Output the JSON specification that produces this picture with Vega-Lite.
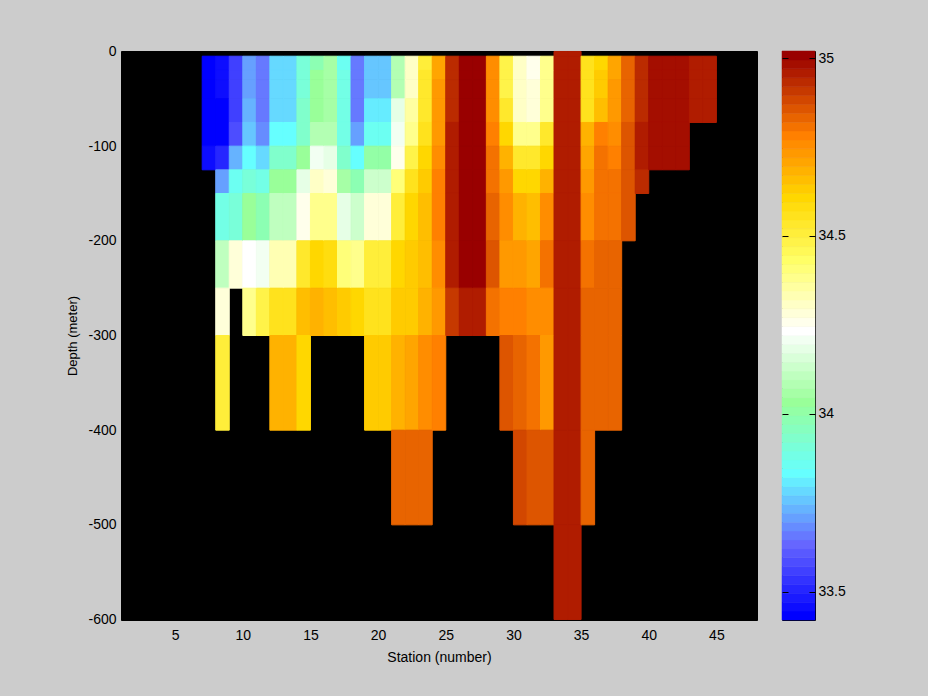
{"$schema":"https://vega.github.io/schema/vega-lite/v6.json","background":"#cccccc","padding":{"left":66,"top":43,"right":82,"bottom":36},"spacing":25,"bounds":"flush","config":{"font":"Liberation Sans"},
"datasets":{"cells":[
{"s0":7,"s1":8,"d0":-5,"d1":-20,"sal":33.433},{"s0":7,"s1":8,"d0":-20,"d1":-30,"sal":33.433},{"s0":7,"s1":8,"d0":-30,"d1":-50,"sal":33.433},{"s0":7,"s1":8,"d0":-50,"d1":-75,"sal":33.433},{"s0":7,"s1":8,"d0":-75,"d1":-100,"sal":33.433},{"s0":7,"s1":8,"d0":-100,"d1":-125,"sal":33.458},
{"s0":8,"s1":9,"d0":-5,"d1":-20,"sal":33.458},{"s0":8,"s1":9,"d0":-20,"d1":-30,"sal":33.458},{"s0":8,"s1":9,"d0":-30,"d1":-50,"sal":33.458},{"s0":8,"s1":9,"d0":-50,"d1":-75,"sal":33.433},{"s0":8,"s1":9,"d0":-75,"d1":-100,"sal":33.433},{"s0":8,"s1":9,"d0":-100,"d1":-125,"sal":33.508},{"s0":8,"s1":9,"d0":-125,"d1":-150,"sal":33.708},{"s0":8,"s1":9,"d0":-150,"d1":-200,"sal":33.883},{"s0":8,"s1":9,"d0":-200,"d1":-250,"sal":34.108},{"s0":8,"s1":9,"d0":-250,"d1":-300,"sal":34.283},{"s0":8,"s1":9,"d0":-300,"d1":-400,"sal":34.508},
{"s0":9,"s1":10,"d0":-5,"d1":-20,"sal":33.558},{"s0":9,"s1":10,"d0":-20,"d1":-30,"sal":33.558},{"s0":9,"s1":10,"d0":-30,"d1":-50,"sal":33.558},{"s0":9,"s1":10,"d0":-50,"d1":-75,"sal":33.558},{"s0":9,"s1":10,"d0":-75,"d1":-100,"sal":33.583},{"s0":9,"s1":10,"d0":-100,"d1":-125,"sal":33.733},{"s0":9,"s1":10,"d0":-125,"d1":-150,"sal":33.858},{"s0":9,"s1":10,"d0":-150,"d1":-200,"sal":33.908},{"s0":9,"s1":10,"d0":-200,"d1":-250,"sal":34.283},
{"s0":10,"s1":11,"d0":-5,"d1":-20,"sal":33.708},{"s0":10,"s1":11,"d0":-20,"d1":-30,"sal":33.708},{"s0":10,"s1":11,"d0":-30,"d1":-50,"sal":33.708},{"s0":10,"s1":11,"d0":-50,"d1":-75,"sal":33.733},{"s0":10,"s1":11,"d0":-75,"d1":-100,"sal":33.758},{"s0":10,"s1":11,"d0":-100,"d1":-125,"sal":33.833},{"s0":10,"s1":11,"d0":-125,"d1":-150,"sal":33.908},{"s0":10,"s1":11,"d0":-150,"d1":-200,"sal":34.033},{"s0":10,"s1":11,"d0":-200,"d1":-250,"sal":34.233},{"s0":10,"s1":11,"d0":-250,"d1":-300,"sal":34.383},
{"s0":11,"s1":12,"d0":-5,"d1":-20,"sal":33.658},{"s0":11,"s1":12,"d0":-20,"d1":-30,"sal":33.658},{"s0":11,"s1":12,"d0":-30,"d1":-50,"sal":33.658},{"s0":11,"s1":12,"d0":-50,"d1":-75,"sal":33.658},{"s0":11,"s1":12,"d0":-75,"d1":-100,"sal":33.683},{"s0":11,"s1":12,"d0":-100,"d1":-125,"sal":33.783},{"s0":11,"s1":12,"d0":-125,"d1":-150,"sal":33.883},{"s0":11,"s1":12,"d0":-150,"d1":-200,"sal":33.983},{"s0":11,"s1":12,"d0":-200,"d1":-250,"sal":34.208},{"s0":11,"s1":12,"d0":-250,"d1":-300,"sal":34.483},
{"s0":12,"s1":13,"d0":-5,"d1":-20,"sal":33.783},{"s0":12,"s1":13,"d0":-20,"d1":-30,"sal":33.783},{"s0":12,"s1":13,"d0":-30,"d1":-50,"sal":33.783},{"s0":12,"s1":13,"d0":-50,"d1":-75,"sal":33.783},{"s0":12,"s1":13,"d0":-75,"d1":-100,"sal":33.833},{"s0":12,"s1":13,"d0":-100,"d1":-125,"sal":33.933},{"s0":12,"s1":13,"d0":-125,"d1":-150,"sal":34.033},{"s0":12,"s1":13,"d0":-150,"d1":-200,"sal":34.108},{"s0":12,"s1":13,"d0":-200,"d1":-250,"sal":34.333},{"s0":12,"s1":13,"d0":-250,"d1":-300,"sal":34.558},{"s0":12,"s1":13,"d0":-300,"d1":-400,"sal":34.683},
{"s0":13,"s1":14,"d0":-5,"d1":-20,"sal":33.783},{"s0":13,"s1":14,"d0":-20,"d1":-30,"sal":33.783},{"s0":13,"s1":14,"d0":-30,"d1":-50,"sal":33.783},{"s0":13,"s1":14,"d0":-50,"d1":-75,"sal":33.783},{"s0":13,"s1":14,"d0":-75,"d1":-100,"sal":33.833},{"s0":13,"s1":14,"d0":-100,"d1":-125,"sal":33.933},{"s0":13,"s1":14,"d0":-125,"d1":-150,"sal":34.033},{"s0":13,"s1":14,"d0":-150,"d1":-200,"sal":34.108},{"s0":13,"s1":14,"d0":-200,"d1":-250,"sal":34.333},{"s0":13,"s1":14,"d0":-250,"d1":-300,"sal":34.558},{"s0":13,"s1":14,"d0":-300,"d1":-400,"sal":34.683},
{"s0":14,"s1":15,"d0":-5,"d1":-20,"sal":33.908},{"s0":14,"s1":15,"d0":-20,"d1":-30,"sal":33.908},{"s0":14,"s1":15,"d0":-30,"d1":-50,"sal":33.908},{"s0":14,"s1":15,"d0":-50,"d1":-75,"sal":33.933},{"s0":14,"s1":15,"d0":-75,"d1":-100,"sal":33.933},{"s0":14,"s1":15,"d0":-100,"d1":-125,"sal":34.033},{"s0":14,"s1":15,"d0":-125,"d1":-150,"sal":34.183},{"s0":14,"s1":15,"d0":-150,"d1":-200,"sal":34.258},{"s0":14,"s1":15,"d0":-200,"d1":-250,"sal":34.533},{"s0":14,"s1":15,"d0":-250,"d1":-300,"sal":34.658},{"s0":14,"s1":15,"d0":-300,"d1":-400,"sal":34.608},
{"s0":15,"s1":16,"d0":-5,"d1":-20,"sal":33.983},{"s0":15,"s1":16,"d0":-20,"d1":-30,"sal":34.033},{"s0":15,"s1":16,"d0":-30,"d1":-50,"sal":34.033},{"s0":15,"s1":16,"d0":-50,"d1":-75,"sal":34.033},{"s0":15,"s1":16,"d0":-75,"d1":-100,"sal":34.083},{"s0":15,"s1":16,"d0":-100,"d1":-125,"sal":34.208},{"s0":15,"s1":16,"d0":-125,"d1":-150,"sal":34.308},{"s0":15,"s1":16,"d0":-150,"d1":-200,"sal":34.383},{"s0":15,"s1":16,"d0":-200,"d1":-250,"sal":34.608},{"s0":15,"s1":16,"d0":-250,"d1":-300,"sal":34.683},
{"s0":16,"s1":17,"d0":-5,"d1":-20,"sal":34.058},{"s0":16,"s1":17,"d0":-20,"d1":-30,"sal":34.058},{"s0":16,"s1":17,"d0":-30,"d1":-50,"sal":34.058},{"s0":16,"s1":17,"d0":-50,"d1":-75,"sal":34.058},{"s0":16,"s1":17,"d0":-75,"d1":-100,"sal":34.083},{"s0":16,"s1":17,"d0":-100,"d1":-125,"sal":34.183},{"s0":16,"s1":17,"d0":-125,"d1":-150,"sal":34.283},{"s0":16,"s1":17,"d0":-150,"d1":-200,"sal":34.383},{"s0":16,"s1":17,"d0":-200,"d1":-250,"sal":34.583},{"s0":16,"s1":17,"d0":-250,"d1":-300,"sal":34.658},
{"s0":17,"s1":18,"d0":-5,"d1":-20,"sal":33.858},{"s0":17,"s1":18,"d0":-20,"d1":-30,"sal":33.883},{"s0":17,"s1":18,"d0":-30,"d1":-50,"sal":33.883},{"s0":17,"s1":18,"d0":-50,"d1":-75,"sal":33.883},{"s0":17,"s1":18,"d0":-75,"d1":-100,"sal":33.883},{"s0":17,"s1":18,"d0":-100,"d1":-125,"sal":33.933},{"s0":17,"s1":18,"d0":-125,"d1":-150,"sal":34.058},{"s0":17,"s1":18,"d0":-150,"d1":-200,"sal":34.183},{"s0":17,"s1":18,"d0":-200,"d1":-250,"sal":34.408},{"s0":17,"s1":18,"d0":-250,"d1":-300,"sal":34.633},
{"s0":18,"s1":19,"d0":-5,"d1":-20,"sal":33.658},{"s0":18,"s1":19,"d0":-20,"d1":-30,"sal":33.658},{"s0":18,"s1":19,"d0":-30,"d1":-50,"sal":33.658},{"s0":18,"s1":19,"d0":-50,"d1":-75,"sal":33.658},{"s0":18,"s1":19,"d0":-75,"d1":-100,"sal":33.708},{"s0":18,"s1":19,"d0":-100,"d1":-125,"sal":33.833},{"s0":18,"s1":19,"d0":-125,"d1":-150,"sal":33.983},{"s0":18,"s1":19,"d0":-150,"d1":-200,"sal":34.133},{"s0":18,"s1":19,"d0":-200,"d1":-250,"sal":34.383},{"s0":18,"s1":19,"d0":-250,"d1":-300,"sal":34.608},
{"s0":19,"s1":20,"d0":-5,"d1":-20,"sal":33.758},{"s0":19,"s1":20,"d0":-20,"d1":-30,"sal":33.758},{"s0":19,"s1":20,"d0":-30,"d1":-50,"sal":33.758},{"s0":19,"s1":20,"d0":-50,"d1":-75,"sal":33.808},{"s0":19,"s1":20,"d0":-75,"d1":-100,"sal":33.858},{"s0":19,"s1":20,"d0":-100,"d1":-125,"sal":34.008},{"s0":19,"s1":20,"d0":-125,"d1":-150,"sal":34.133},{"s0":19,"s1":20,"d0":-150,"d1":-200,"sal":34.283},{"s0":19,"s1":20,"d0":-200,"d1":-250,"sal":34.508},{"s0":19,"s1":20,"d0":-250,"d1":-300,"sal":34.558},{"s0":19,"s1":20,"d0":-300,"d1":-400,"sal":34.633},
{"s0":20,"s1":21,"d0":-5,"d1":-20,"sal":33.758},{"s0":20,"s1":21,"d0":-20,"d1":-30,"sal":33.758},{"s0":20,"s1":21,"d0":-30,"d1":-50,"sal":33.758},{"s0":20,"s1":21,"d0":-50,"d1":-75,"sal":33.808},{"s0":20,"s1":21,"d0":-75,"d1":-100,"sal":33.858},{"s0":20,"s1":21,"d0":-100,"d1":-125,"sal":34.008},{"s0":20,"s1":21,"d0":-125,"d1":-150,"sal":34.133},{"s0":20,"s1":21,"d0":-150,"d1":-200,"sal":34.283},{"s0":20,"s1":21,"d0":-200,"d1":-250,"sal":34.508},{"s0":20,"s1":21,"d0":-250,"d1":-300,"sal":34.558},{"s0":20,"s1":21,"d0":-300,"d1":-400,"sal":34.633},
{"s0":21,"s1":22,"d0":-5,"d1":-20,"sal":34.083},{"s0":21,"s1":22,"d0":-20,"d1":-30,"sal":34.083},{"s0":21,"s1":22,"d0":-30,"d1":-50,"sal":34.083},{"s0":21,"s1":22,"d0":-50,"d1":-75,"sal":34.183},{"s0":21,"s1":22,"d0":-75,"d1":-100,"sal":34.208},{"s0":21,"s1":22,"d0":-100,"d1":-125,"sal":34.258},{"s0":21,"s1":22,"d0":-125,"d1":-150,"sal":34.408},{"s0":21,"s1":22,"d0":-150,"d1":-200,"sal":34.508},{"s0":21,"s1":22,"d0":-200,"d1":-250,"sal":34.608},{"s0":21,"s1":22,"d0":-250,"d1":-300,"sal":34.633},{"s0":21,"s1":22,"d0":-300,"d1":-400,"sal":34.683},{"s0":21,"s1":22,"d0":-400,"d1":-500,"sal":34.833},
{"s0":22,"s1":23,"d0":-5,"d1":-20,"sal":34.308},{"s0":22,"s1":23,"d0":-20,"d1":-30,"sal":34.308},{"s0":22,"s1":23,"d0":-30,"d1":-50,"sal":34.308},{"s0":22,"s1":23,"d0":-50,"d1":-75,"sal":34.358},{"s0":22,"s1":23,"d0":-75,"d1":-100,"sal":34.383},{"s0":22,"s1":23,"d0":-100,"d1":-125,"sal":34.483},{"s0":22,"s1":23,"d0":-125,"d1":-150,"sal":34.558},{"s0":22,"s1":23,"d0":-150,"d1":-200,"sal":34.608},{"s0":22,"s1":23,"d0":-200,"d1":-250,"sal":34.633},{"s0":22,"s1":23,"d0":-250,"d1":-300,"sal":34.633},{"s0":22,"s1":23,"d0":-300,"d1":-400,"sal":34.708},{"s0":22,"s1":23,"d0":-400,"d1":-500,"sal":34.833},
{"s0":23,"s1":24,"d0":-5,"d1":-20,"sal":34.508},{"s0":23,"s1":24,"d0":-20,"d1":-30,"sal":34.533},{"s0":23,"s1":24,"d0":-30,"d1":-50,"sal":34.533},{"s0":23,"s1":24,"d0":-50,"d1":-75,"sal":34.533},{"s0":23,"s1":24,"d0":-75,"d1":-100,"sal":34.558},{"s0":23,"s1":24,"d0":-100,"d1":-125,"sal":34.608},{"s0":23,"s1":24,"d0":-125,"d1":-150,"sal":34.633},{"s0":23,"s1":24,"d0":-150,"d1":-200,"sal":34.658},{"s0":23,"s1":24,"d0":-200,"d1":-250,"sal":34.658},{"s0":23,"s1":24,"d0":-250,"d1":-300,"sal":34.683},{"s0":23,"s1":24,"d0":-300,"d1":-400,"sal":34.758},{"s0":23,"s1":24,"d0":-400,"d1":-500,"sal":34.833},
{"s0":24,"s1":25,"d0":-5,"d1":-20,"sal":34.708},{"s0":24,"s1":25,"d0":-20,"d1":-30,"sal":34.708},{"s0":24,"s1":25,"d0":-30,"d1":-50,"sal":34.733},{"s0":24,"s1":25,"d0":-50,"d1":-75,"sal":34.733},{"s0":24,"s1":25,"d0":-75,"d1":-100,"sal":34.733},{"s0":24,"s1":25,"d0":-100,"d1":-125,"sal":34.758},{"s0":24,"s1":25,"d0":-125,"d1":-150,"sal":34.783},{"s0":24,"s1":25,"d0":-150,"d1":-200,"sal":34.783},{"s0":24,"s1":25,"d0":-200,"d1":-250,"sal":34.758},{"s0":24,"s1":25,"d0":-250,"d1":-300,"sal":34.733},{"s0":24,"s1":25,"d0":-300,"d1":-400,"sal":34.783},
{"s0":25,"s1":26,"d0":-5,"d1":-20,"sal":34.933},{"s0":25,"s1":26,"d0":-20,"d1":-30,"sal":34.933},{"s0":25,"s1":26,"d0":-30,"d1":-50,"sal":34.933},{"s0":25,"s1":26,"d0":-50,"d1":-75,"sal":34.933},{"s0":25,"s1":26,"d0":-75,"d1":-100,"sal":34.958},{"s0":25,"s1":26,"d0":-100,"d1":-125,"sal":34.958},{"s0":25,"s1":26,"d0":-125,"d1":-150,"sal":34.958},{"s0":25,"s1":26,"d0":-150,"d1":-200,"sal":34.958},{"s0":25,"s1":26,"d0":-200,"d1":-250,"sal":34.958},{"s0":25,"s1":26,"d0":-250,"d1":-300,"sal":34.908},
{"s0":26,"s1":27,"d0":-5,"d1":-20,"sal":35.008},{"s0":26,"s1":27,"d0":-20,"d1":-30,"sal":35.008},{"s0":26,"s1":27,"d0":-30,"d1":-50,"sal":35.008},{"s0":26,"s1":27,"d0":-50,"d1":-75,"sal":35.008},{"s0":26,"s1":27,"d0":-75,"d1":-100,"sal":35.008},{"s0":26,"s1":27,"d0":-100,"d1":-125,"sal":35.008},{"s0":26,"s1":27,"d0":-125,"d1":-150,"sal":35.008},{"s0":26,"s1":27,"d0":-150,"d1":-200,"sal":35.008},{"s0":26,"s1":27,"d0":-200,"d1":-250,"sal":35.008},{"s0":26,"s1":27,"d0":-250,"d1":-300,"sal":34.958},
{"s0":27,"s1":28,"d0":-5,"d1":-20,"sal":35.008},{"s0":27,"s1":28,"d0":-20,"d1":-30,"sal":35.008},{"s0":27,"s1":28,"d0":-30,"d1":-50,"sal":35.008},{"s0":27,"s1":28,"d0":-50,"d1":-75,"sal":35.008},{"s0":27,"s1":28,"d0":-75,"d1":-100,"sal":35.008},{"s0":27,"s1":28,"d0":-100,"d1":-125,"sal":35.008},{"s0":27,"s1":28,"d0":-125,"d1":-150,"sal":35.008},{"s0":27,"s1":28,"d0":-150,"d1":-200,"sal":35.008},{"s0":27,"s1":28,"d0":-200,"d1":-250,"sal":35.008},{"s0":27,"s1":28,"d0":-250,"d1":-300,"sal":34.958},
{"s0":28,"s1":29,"d0":-5,"d1":-20,"sal":34.758},{"s0":28,"s1":29,"d0":-20,"d1":-30,"sal":34.758},{"s0":28,"s1":29,"d0":-30,"d1":-50,"sal":34.758},{"s0":28,"s1":29,"d0":-50,"d1":-75,"sal":34.758},{"s0":28,"s1":29,"d0":-75,"d1":-100,"sal":34.783},{"s0":28,"s1":29,"d0":-100,"d1":-125,"sal":34.808},{"s0":28,"s1":29,"d0":-125,"d1":-150,"sal":34.808},{"s0":28,"s1":29,"d0":-150,"d1":-200,"sal":34.833},{"s0":28,"s1":29,"d0":-200,"d1":-250,"sal":34.858},{"s0":28,"s1":29,"d0":-250,"d1":-300,"sal":34.808},
{"s0":29,"s1":30,"d0":-5,"d1":-20,"sal":34.483},{"s0":29,"s1":30,"d0":-20,"d1":-30,"sal":34.483},{"s0":29,"s1":30,"d0":-30,"d1":-50,"sal":34.483},{"s0":29,"s1":30,"d0":-50,"d1":-75,"sal":34.533},{"s0":29,"s1":30,"d0":-75,"d1":-100,"sal":34.608},{"s0":29,"s1":30,"d0":-100,"d1":-125,"sal":34.683},{"s0":29,"s1":30,"d0":-125,"d1":-150,"sal":34.733},{"s0":29,"s1":30,"d0":-150,"d1":-200,"sal":34.758},{"s0":29,"s1":30,"d0":-200,"d1":-250,"sal":34.733},{"s0":29,"s1":30,"d0":-250,"d1":-300,"sal":34.783},{"s0":29,"s1":30,"d0":-300,"d1":-400,"sal":34.858},
{"s0":30,"s1":31,"d0":-5,"d1":-20,"sal":34.308},{"s0":30,"s1":31,"d0":-20,"d1":-30,"sal":34.308},{"s0":30,"s1":31,"d0":-30,"d1":-50,"sal":34.308},{"s0":30,"s1":31,"d0":-50,"d1":-75,"sal":34.308},{"s0":30,"s1":31,"d0":-75,"d1":-100,"sal":34.383},{"s0":30,"s1":31,"d0":-100,"d1":-125,"sal":34.533},{"s0":30,"s1":31,"d0":-125,"d1":-150,"sal":34.608},{"s0":30,"s1":31,"d0":-150,"d1":-200,"sal":34.683},{"s0":30,"s1":31,"d0":-200,"d1":-250,"sal":34.733},{"s0":30,"s1":31,"d0":-250,"d1":-300,"sal":34.783},{"s0":30,"s1":31,"d0":-300,"d1":-400,"sal":34.833},{"s0":30,"s1":31,"d0":-400,"d1":-500,"sal":34.883},
{"s0":31,"s1":32,"d0":-5,"d1":-20,"sal":34.258},{"s0":31,"s1":32,"d0":-20,"d1":-30,"sal":34.258},{"s0":31,"s1":32,"d0":-30,"d1":-50,"sal":34.283},{"s0":31,"s1":32,"d0":-50,"d1":-75,"sal":34.283},{"s0":31,"s1":32,"d0":-75,"d1":-100,"sal":34.383},{"s0":31,"s1":32,"d0":-100,"d1":-125,"sal":34.533},{"s0":31,"s1":32,"d0":-125,"d1":-150,"sal":34.608},{"s0":31,"s1":32,"d0":-150,"d1":-200,"sal":34.658},{"s0":31,"s1":32,"d0":-200,"d1":-250,"sal":34.708},{"s0":31,"s1":32,"d0":-250,"d1":-300,"sal":34.758},{"s0":31,"s1":32,"d0":-300,"d1":-400,"sal":34.808},{"s0":31,"s1":32,"d0":-400,"d1":-500,"sal":34.858},
{"s0":32,"s1":33,"d0":-5,"d1":-20,"sal":34.383},{"s0":32,"s1":33,"d0":-20,"d1":-30,"sal":34.383},{"s0":32,"s1":33,"d0":-30,"d1":-50,"sal":34.383},{"s0":32,"s1":33,"d0":-50,"d1":-75,"sal":34.383},{"s0":32,"s1":33,"d0":-75,"d1":-100,"sal":34.533},{"s0":32,"s1":33,"d0":-100,"d1":-125,"sal":34.608},{"s0":32,"s1":33,"d0":-125,"d1":-150,"sal":34.683},{"s0":32,"s1":33,"d0":-150,"d1":-200,"sal":34.758},{"s0":32,"s1":33,"d0":-200,"d1":-250,"sal":34.808},{"s0":32,"s1":33,"d0":-250,"d1":-300,"sal":34.758},{"s0":32,"s1":33,"d0":-300,"d1":-400,"sal":34.733},{"s0":32,"s1":33,"d0":-400,"d1":-500,"sal":34.858},
{"s0":33,"s1":34,"d0":0,"d1":-5,"sal":34.958},{"s0":33,"s1":34,"d0":-5,"d1":-20,"sal":34.958},{"s0":33,"s1":34,"d0":-20,"d1":-30,"sal":34.958},{"s0":33,"s1":34,"d0":-30,"d1":-50,"sal":34.958},{"s0":33,"s1":34,"d0":-50,"d1":-75,"sal":34.958},{"s0":33,"s1":34,"d0":-75,"d1":-100,"sal":34.958},{"s0":33,"s1":34,"d0":-100,"d1":-125,"sal":34.958},{"s0":33,"s1":34,"d0":-125,"d1":-150,"sal":34.958},{"s0":33,"s1":34,"d0":-150,"d1":-200,"sal":34.958},{"s0":33,"s1":34,"d0":-200,"d1":-250,"sal":34.958},{"s0":33,"s1":34,"d0":-250,"d1":-300,"sal":34.958},{"s0":33,"s1":34,"d0":-300,"d1":-400,"sal":34.958},{"s0":33,"s1":34,"d0":-400,"d1":-500,"sal":34.958},{"s0":33,"s1":34,"d0":-500,"d1":-600,"sal":34.958},
{"s0":34,"s1":35,"d0":0,"d1":-5,"sal":34.958},{"s0":34,"s1":35,"d0":-5,"d1":-20,"sal":34.958},{"s0":34,"s1":35,"d0":-20,"d1":-30,"sal":34.958},{"s0":34,"s1":35,"d0":-30,"d1":-50,"sal":34.958},{"s0":34,"s1":35,"d0":-50,"d1":-75,"sal":34.958},{"s0":34,"s1":35,"d0":-75,"d1":-100,"sal":34.958},{"s0":34,"s1":35,"d0":-100,"d1":-125,"sal":34.958},{"s0":34,"s1":35,"d0":-125,"d1":-150,"sal":34.958},{"s0":34,"s1":35,"d0":-150,"d1":-200,"sal":34.958},{"s0":34,"s1":35,"d0":-200,"d1":-250,"sal":34.958},{"s0":34,"s1":35,"d0":-250,"d1":-300,"sal":34.958},{"s0":34,"s1":35,"d0":-300,"d1":-400,"sal":34.958},{"s0":34,"s1":35,"d0":-400,"d1":-500,"sal":34.958},{"s0":34,"s1":35,"d0":-500,"d1":-600,"sal":34.958},
{"s0":35,"s1":36,"d0":-5,"d1":-20,"sal":34.558},{"s0":35,"s1":36,"d0":-20,"d1":-30,"sal":34.558},{"s0":35,"s1":36,"d0":-30,"d1":-50,"sal":34.558},{"s0":35,"s1":36,"d0":-50,"d1":-75,"sal":34.558},{"s0":35,"s1":36,"d0":-75,"d1":-100,"sal":34.683},{"s0":35,"s1":36,"d0":-100,"d1":-125,"sal":34.708},{"s0":35,"s1":36,"d0":-125,"d1":-150,"sal":34.733},{"s0":35,"s1":36,"d0":-150,"d1":-200,"sal":34.758},{"s0":35,"s1":36,"d0":-200,"d1":-250,"sal":34.808},{"s0":35,"s1":36,"d0":-250,"d1":-300,"sal":34.833},{"s0":35,"s1":36,"d0":-300,"d1":-400,"sal":34.833},{"s0":35,"s1":36,"d0":-400,"d1":-500,"sal":34.833},
{"s0":36,"s1":37,"d0":-5,"d1":-20,"sal":34.608},{"s0":36,"s1":37,"d0":-20,"d1":-30,"sal":34.633},{"s0":36,"s1":37,"d0":-30,"d1":-50,"sal":34.633},{"s0":36,"s1":37,"d0":-50,"d1":-75,"sal":34.658},{"s0":36,"s1":37,"d0":-75,"d1":-100,"sal":34.783},{"s0":36,"s1":37,"d0":-100,"d1":-125,"sal":34.808},{"s0":36,"s1":37,"d0":-125,"d1":-150,"sal":34.808},{"s0":36,"s1":37,"d0":-150,"d1":-200,"sal":34.808},{"s0":36,"s1":37,"d0":-200,"d1":-250,"sal":34.833},{"s0":36,"s1":37,"d0":-250,"d1":-300,"sal":34.833},{"s0":36,"s1":37,"d0":-300,"d1":-400,"sal":34.833},
{"s0":37,"s1":38,"d0":-5,"d1":-20,"sal":34.708},{"s0":37,"s1":38,"d0":-20,"d1":-30,"sal":34.708},{"s0":37,"s1":38,"d0":-30,"d1":-50,"sal":34.733},{"s0":37,"s1":38,"d0":-50,"d1":-75,"sal":34.733},{"s0":37,"s1":38,"d0":-75,"d1":-100,"sal":34.758},{"s0":37,"s1":38,"d0":-100,"d1":-125,"sal":34.783},{"s0":37,"s1":38,"d0":-125,"d1":-150,"sal":34.808},{"s0":37,"s1":38,"d0":-150,"d1":-200,"sal":34.808},{"s0":37,"s1":38,"d0":-200,"d1":-250,"sal":34.833},{"s0":37,"s1":38,"d0":-250,"d1":-300,"sal":34.833},{"s0":37,"s1":38,"d0":-300,"d1":-400,"sal":34.833},
{"s0":38,"s1":39,"d0":-5,"d1":-20,"sal":34.833},{"s0":38,"s1":39,"d0":-20,"d1":-30,"sal":34.833},{"s0":38,"s1":39,"d0":-30,"d1":-50,"sal":34.833},{"s0":38,"s1":39,"d0":-50,"d1":-75,"sal":34.833},{"s0":38,"s1":39,"d0":-75,"d1":-100,"sal":34.858},{"s0":38,"s1":39,"d0":-100,"d1":-125,"sal":34.858},{"s0":38,"s1":39,"d0":-125,"d1":-150,"sal":34.858},{"s0":38,"s1":39,"d0":-150,"d1":-200,"sal":34.858},
{"s0":39,"s1":40,"d0":-5,"d1":-20,"sal":34.933},{"s0":39,"s1":40,"d0":-20,"d1":-30,"sal":34.933},{"s0":39,"s1":40,"d0":-30,"d1":-50,"sal":34.933},{"s0":39,"s1":40,"d0":-50,"d1":-75,"sal":34.933},{"s0":39,"s1":40,"d0":-75,"d1":-100,"sal":34.958},{"s0":39,"s1":40,"d0":-100,"d1":-125,"sal":34.958},{"s0":39,"s1":40,"d0":-125,"d1":-150,"sal":34.933},
{"s0":40,"s1":41,"d0":-5,"d1":-20,"sal":34.983},{"s0":40,"s1":41,"d0":-20,"d1":-30,"sal":34.983},{"s0":40,"s1":41,"d0":-30,"d1":-50,"sal":34.983},{"s0":40,"s1":41,"d0":-50,"d1":-75,"sal":34.983},{"s0":40,"s1":41,"d0":-75,"d1":-100,"sal":34.983},{"s0":40,"s1":41,"d0":-100,"d1":-125,"sal":34.983},
{"s0":41,"s1":42,"d0":-5,"d1":-20,"sal":34.983},{"s0":41,"s1":42,"d0":-20,"d1":-30,"sal":34.983},{"s0":41,"s1":42,"d0":-30,"d1":-50,"sal":34.983},{"s0":41,"s1":42,"d0":-50,"d1":-75,"sal":34.983},{"s0":41,"s1":42,"d0":-75,"d1":-100,"sal":34.983},{"s0":41,"s1":42,"d0":-100,"d1":-125,"sal":34.983},
{"s0":42,"s1":43,"d0":-5,"d1":-20,"sal":34.983},{"s0":42,"s1":43,"d0":-20,"d1":-30,"sal":34.983},{"s0":42,"s1":43,"d0":-30,"d1":-50,"sal":34.983},{"s0":42,"s1":43,"d0":-50,"d1":-75,"sal":34.983},{"s0":42,"s1":43,"d0":-75,"d1":-100,"sal":34.983},{"s0":42,"s1":43,"d0":-100,"d1":-125,"sal":34.983},
{"s0":43,"s1":44,"d0":-5,"d1":-20,"sal":34.958},{"s0":43,"s1":44,"d0":-20,"d1":-30,"sal":34.958},{"s0":43,"s1":44,"d0":-30,"d1":-50,"sal":34.958},{"s0":43,"s1":44,"d0":-50,"d1":-75,"sal":34.958},
{"s0":44,"s1":45,"d0":-5,"d1":-20,"sal":34.958},{"s0":44,"s1":45,"d0":-20,"d1":-30,"sal":34.958},{"s0":44,"s1":45,"d0":-30,"d1":-50,"sal":34.958},{"s0":44,"s1":45,"d0":-50,"d1":-75,"sal":34.958}
],
"bar":[{"lo":33.42,"hi":33.445,"sal":33.433},{"lo":33.445,"hi":33.47,"sal":33.458},{"lo":33.47,"hi":33.495,"sal":33.483},{"lo":33.495,"hi":33.52,"sal":33.508},{"lo":33.52,"hi":33.545,"sal":33.533},{"lo":33.545,"hi":33.57,"sal":33.558},{"lo":33.57,"hi":33.595,"sal":33.583},{"lo":33.595,"hi":33.62,"sal":33.608},{"lo":33.62,"hi":33.645,"sal":33.633},{"lo":33.645,"hi":33.67,"sal":33.658},{"lo":33.67,"hi":33.695,"sal":33.683},{"lo":33.695,"hi":33.72,"sal":33.708},{"lo":33.72,"hi":33.745,"sal":33.733},{"lo":33.745,"hi":33.77,"sal":33.758},{"lo":33.77,"hi":33.795,"sal":33.783},{"lo":33.795,"hi":33.82,"sal":33.808},{"lo":33.82,"hi":33.845,"sal":33.833},{"lo":33.845,"hi":33.87,"sal":33.858},{"lo":33.87,"hi":33.895,"sal":33.883},{"lo":33.895,"hi":33.92,"sal":33.908},{"lo":33.92,"hi":33.945,"sal":33.933},{"lo":33.945,"hi":33.97,"sal":33.958},{"lo":33.97,"hi":33.995,"sal":33.983},{"lo":33.995,"hi":34.02,"sal":34.008},{"lo":34.02,"hi":34.045,"sal":34.033},{"lo":34.045,"hi":34.07,"sal":34.058},{"lo":34.07,"hi":34.095,"sal":34.083},{"lo":34.095,"hi":34.12,"sal":34.108},{"lo":34.12,"hi":34.145,"sal":34.133},{"lo":34.145,"hi":34.17,"sal":34.158},{"lo":34.17,"hi":34.195,"sal":34.183},{"lo":34.195,"hi":34.22,"sal":34.208},{"lo":34.22,"hi":34.245,"sal":34.233},{"lo":34.245,"hi":34.27,"sal":34.258},{"lo":34.27,"hi":34.295,"sal":34.283},{"lo":34.295,"hi":34.32,"sal":34.308},{"lo":34.32,"hi":34.345,"sal":34.333},{"lo":34.345,"hi":34.37,"sal":34.358},{"lo":34.37,"hi":34.395,"sal":34.383},{"lo":34.395,"hi":34.42,"sal":34.408},{"lo":34.42,"hi":34.445,"sal":34.433},{"lo":34.445,"hi":34.47,"sal":34.458},{"lo":34.47,"hi":34.495,"sal":34.483},{"lo":34.495,"hi":34.52,"sal":34.508},{"lo":34.52,"hi":34.545,"sal":34.533},{"lo":34.545,"hi":34.57,"sal":34.558},{"lo":34.57,"hi":34.595,"sal":34.583},{"lo":34.595,"hi":34.62,"sal":34.608},{"lo":34.62,"hi":34.645,"sal":34.633},{"lo":34.645,"hi":34.67,"sal":34.658},{"lo":34.67,"hi":34.695,"sal":34.683},{"lo":34.695,"hi":34.72,"sal":34.708},{"lo":34.72,"hi":34.745,"sal":34.733},{"lo":34.745,"hi":34.77,"sal":34.758},{"lo":34.77,"hi":34.795,"sal":34.783},{"lo":34.795,"hi":34.82,"sal":34.808},{"lo":34.82,"hi":34.845,"sal":34.833},{"lo":34.845,"hi":34.87,"sal":34.858},{"lo":34.87,"hi":34.895,"sal":34.883},{"lo":34.895,"hi":34.92,"sal":34.908},{"lo":34.92,"hi":34.945,"sal":34.933},{"lo":34.945,"hi":34.97,"sal":34.958},{"lo":34.97,"hi":34.995,"sal":34.983},{"lo":34.995,"hi":35.02,"sal":35.008}]},
"hconcat":[
{"width":636,"height":569,"view":{"fill":"#000000","stroke":"#000000"},"data":{"name":"cells"},"mark":{"type":"rect","strokeWidth":1},
"encoding":{
"x":{"field":"s0","type":"quantitative","scale":{"domain":[1,48],"nice":false,"zero":false},"axis":{"values":[5,10,15,20,25,30,35,40,45],"title":"Station (number)","grid":false,"domain":false,"ticks":false,"labelFontSize":14,"titleFontSize":14,"titleFontWeight":"normal","labelColor":"#000000","titleColor":"#000000","labelPadding":8,"titlePadding":8}},
"x2":{"field":"s1"},
"y":{"field":"d0","type":"quantitative","scale":{"domain":[-600.5,0.5],"nice":false,"zero":false},"axis":{"values":[0,-100,-200,-300,-400,-500,-600],"labelExpr":"replace(datum.label,'−','-')","title":"Depth (meter)","grid":false,"domain":false,"ticks":false,"labelFontSize":14,"titleFontSize":13,"titleFontWeight":"normal","labelColor":"#000000","titleColor":"#000000","labelPadding":5,"titlePadding":8}},
"y2":{"field":"d1"},
"color":{"field":"sal","type":"quantitative","legend":null,"scale":{"type":"quantize","domain":[33.42,35.02],"range":["#0000ff","#0d0dff","#1a1aff","#2626ff","#3333ff","#4040ff","#4d4dff","#5959ff","#6666ff","#6679ff","#668cff","#66a0ff","#66b3ff","#66c6ff","#66d9ff","#66ecff","#66ffff","#6cfff2","#73ffe6","#79ffd9","#80ffcc","#86ffbf","#8cffb3","#93ffa6","#99ff99","#a6ffa6","#b3ffb3","#bfffbf","#ccffcc","#d9ffd9","#e6ffe6","#f2fff2","#ffffff","#ffffec","#ffffd9","#ffffc6","#ffffb3","#ffffa0","#ffff8c","#ffff79","#ffff66","#fff957","#fff349","#ffee3a","#ffe82c","#ffe21d","#ffdd0f","#ffd700","#ffcb00","#ffbe00","#ffb200","#ffa500","#ff9900","#ff8d00","#ff8000","#f47200","#e86400","#dd5500","#d24700","#c63900","#bb2b00","#b01c00","#a40e00","#990000"]}},
"stroke":{"field":"sal","type":"quantitative","legend":null,"scale":{"type":"quantize","domain":[33.42,35.02],"range":["#0000ff","#0d0dff","#1a1aff","#2626ff","#3333ff","#4040ff","#4d4dff","#5959ff","#6666ff","#6679ff","#668cff","#66a0ff","#66b3ff","#66c6ff","#66d9ff","#66ecff","#66ffff","#6cfff2","#73ffe6","#79ffd9","#80ffcc","#86ffbf","#8cffb3","#93ffa6","#99ff99","#a6ffa6","#b3ffb3","#bfffbf","#ccffcc","#d9ffd9","#e6ffe6","#f2fff2","#ffffff","#ffffec","#ffffd9","#ffffc6","#ffffb3","#ffffa0","#ffff8c","#ffff79","#ffff66","#fff957","#fff349","#ffee3a","#ffe82c","#ffe21d","#ffdd0f","#ffd700","#ffcb00","#ffbe00","#ffb200","#ffa500","#ff9900","#ff8d00","#ff8000","#f47200","#e86400","#dd5500","#d24700","#c63900","#bb2b00","#b01c00","#a40e00","#990000"]}}
}},
{"width":33,"height":569,"view":{"stroke":"#000000","strokeWidth":1},"data":{"name":"bar"},"resolve":{"axis":{"y":"independent"}},
"layer":[
{"mark":{"type":"rect","strokeWidth":0.5},"encoding":{
"x":{"datum":0,"type":"quantitative","scale":{"domain":[0,1],"nice":false},"axis":null},
"x2":{"datum":1},
"y":{"field":"lo","type":"quantitative","scale":{"domain":[33.42,35.02],"nice":false,"zero":false},"axis":{"orient":"right","zindex":1,"values":[33.5,34,34.5,35],"title":null,"grid":false,"domain":false,"ticks":true,"tickSize":-6,"tickColor":"#000000","labelFontSize":14,"labelColor":"#000000","labelPadding":9,"format":"~r"}},
"y2":{"field":"hi"},
"color":{"field":"sal","type":"quantitative","legend":null,"scale":{"type":"quantize","domain":[33.42,35.02],"range":["#0000ff","#0d0dff","#1a1aff","#2626ff","#3333ff","#4040ff","#4d4dff","#5959ff","#6666ff","#6679ff","#668cff","#66a0ff","#66b3ff","#66c6ff","#66d9ff","#66ecff","#66ffff","#6cfff2","#73ffe6","#79ffd9","#80ffcc","#86ffbf","#8cffb3","#93ffa6","#99ff99","#a6ffa6","#b3ffb3","#bfffbf","#ccffcc","#d9ffd9","#e6ffe6","#f2fff2","#ffffff","#ffffec","#ffffd9","#ffffc6","#ffffb3","#ffffa0","#ffff8c","#ffff79","#ffff66","#fff957","#fff349","#ffee3a","#ffe82c","#ffe21d","#ffdd0f","#ffd700","#ffcb00","#ffbe00","#ffb200","#ffa500","#ff9900","#ff8d00","#ff8000","#f47200","#e86400","#dd5500","#d24700","#c63900","#bb2b00","#b01c00","#a40e00","#990000"]}},
"stroke":{"field":"sal","type":"quantitative","legend":null,"scale":{"type":"quantize","domain":[33.42,35.02],"range":["#0000ff","#0d0dff","#1a1aff","#2626ff","#3333ff","#4040ff","#4d4dff","#5959ff","#6666ff","#6679ff","#668cff","#66a0ff","#66b3ff","#66c6ff","#66d9ff","#66ecff","#66ffff","#6cfff2","#73ffe6","#79ffd9","#80ffcc","#86ffbf","#8cffb3","#93ffa6","#99ff99","#a6ffa6","#b3ffb3","#bfffbf","#ccffcc","#d9ffd9","#e6ffe6","#f2fff2","#ffffff","#ffffec","#ffffd9","#ffffc6","#ffffb3","#ffffa0","#ffff8c","#ffff79","#ffff66","#fff957","#fff349","#ffee3a","#ffe82c","#ffe21d","#ffdd0f","#ffd700","#ffcb00","#ffbe00","#ffb200","#ffa500","#ff9900","#ff8d00","#ff8000","#f47200","#e86400","#dd5500","#d24700","#c63900","#bb2b00","#b01c00","#a40e00","#990000"]}}
}},
{"mark":{"type":"rect","opacity":0},"encoding":{
"x":{"datum":0,"type":"quantitative","axis":null},
"x2":{"datum":1},
"y":{"field":"lo","type":"quantitative","axis":{"orient":"left","zindex":1,"values":[33.5,34,34.5,35],"title":null,"grid":false,"domain":false,"ticks":true,"tickSize":-6,"tickColor":"#000000","labels":false}},
"y2":{"field":"hi"}
}}
]}
]}
